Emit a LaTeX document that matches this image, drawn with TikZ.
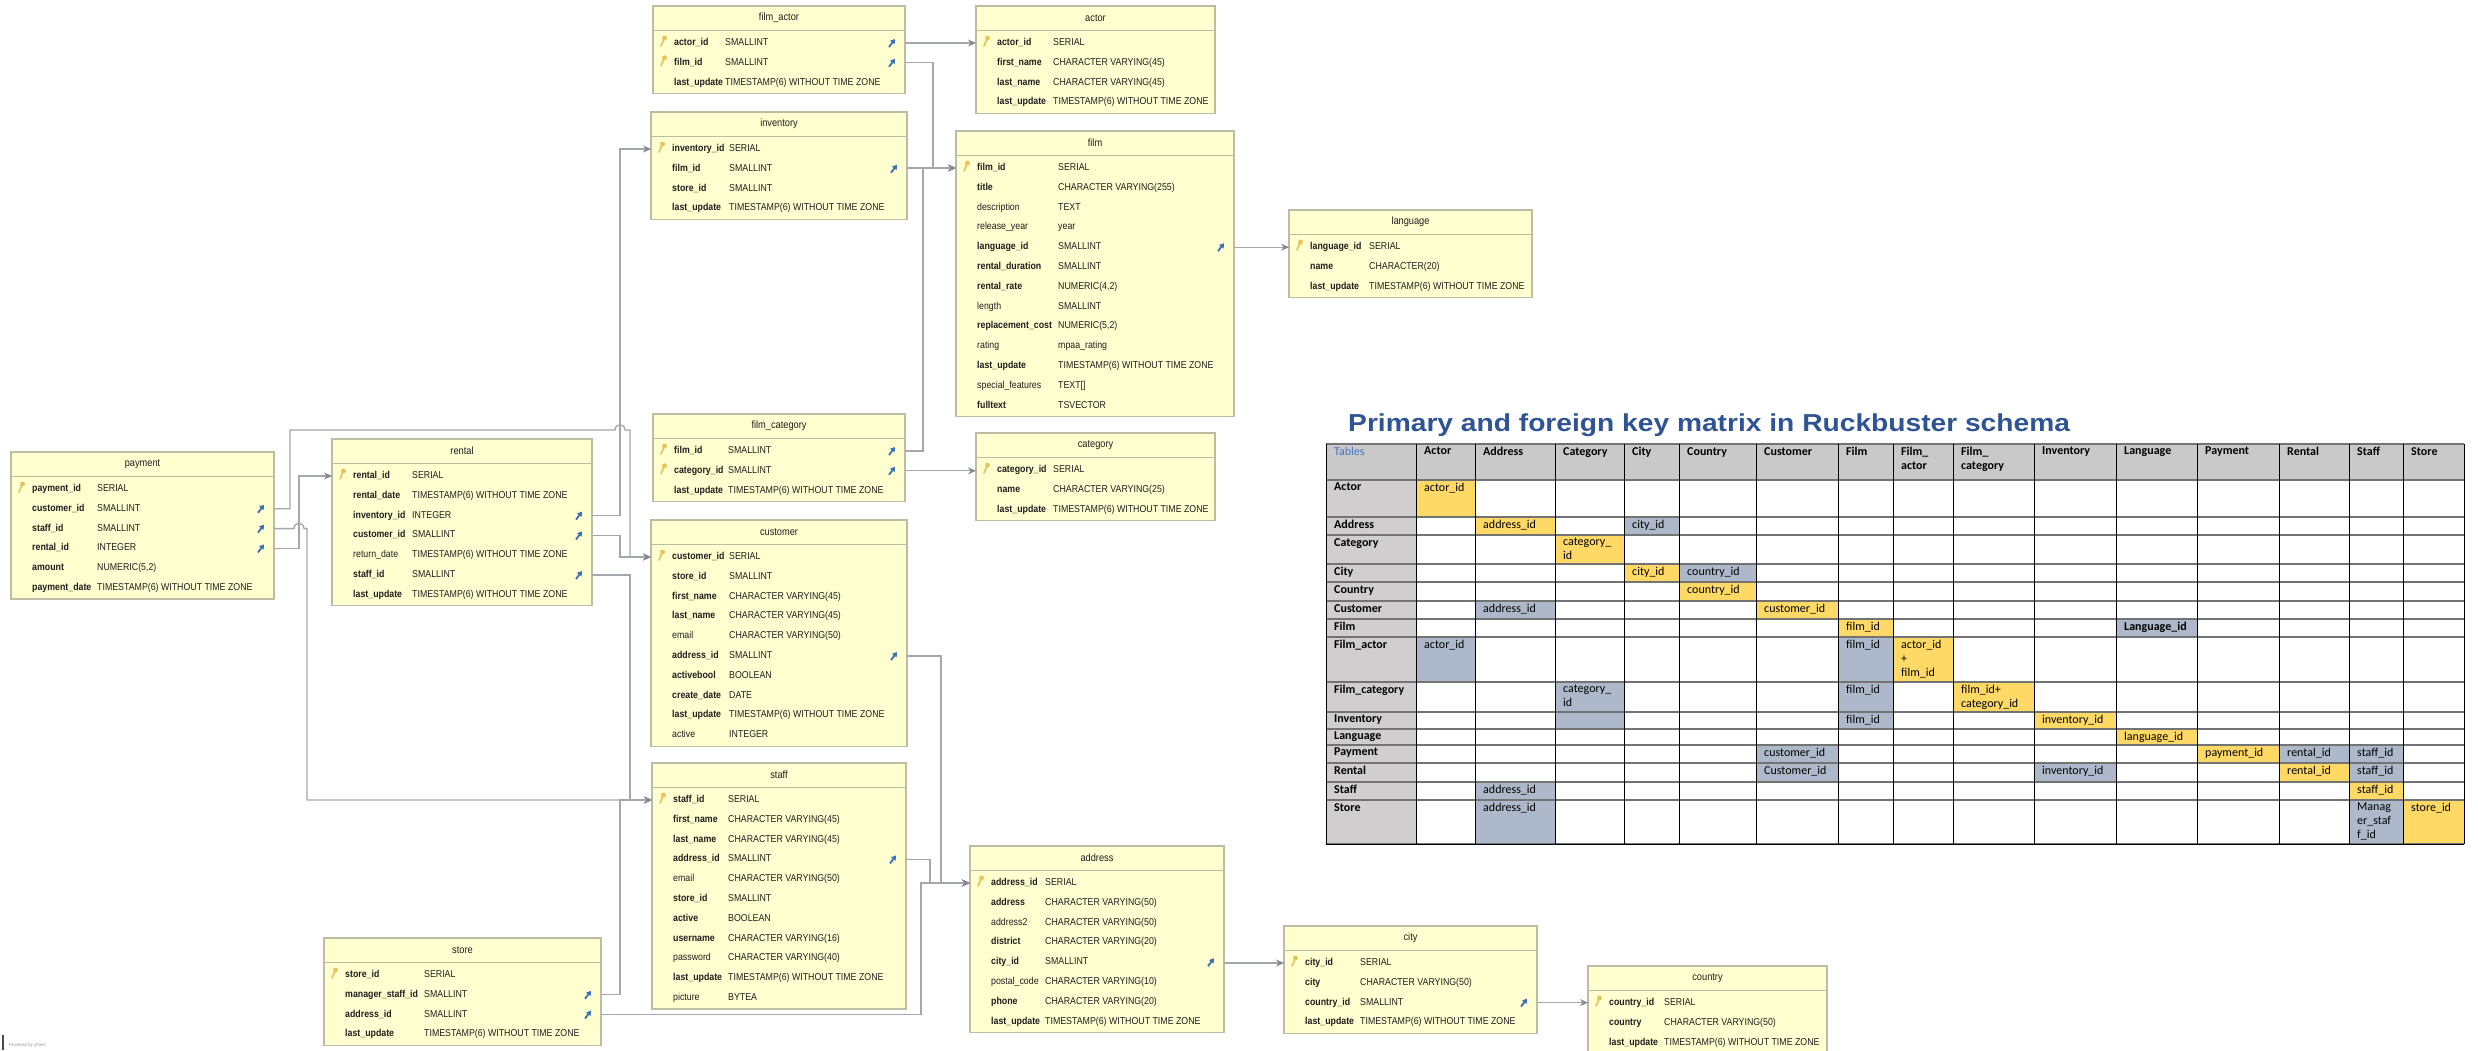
\documentclass[tikz,border=0pt]{standalone}
\usepackage{fontspec}
\setmainfont{Liberation Sans}
\newfontfamily\erfont{Liberation Sans}[FakeStretch=0.88]
\newfontfamily\mxfont{Carlito}
\newfontfamily\ttlfont{Liberation Sans}[FakeStretch=1.15]
\usetikzlibrary{arrows.meta,calc}
\definecolor{tabfill}{HTML}{FFFFD0}
\definecolor{tabline}{HTML}{BDBDA4}
\definecolor{ertext}{HTML}{1E1E1E}
\definecolor{keycol}{HTML}{E8C55C}
\definecolor{fkcol}{HTML}{3B70B5}
\definecolor{conncol}{HTML}{A4A7AF}
\definecolor{arrowcol}{HTML}{858993}
\definecolor{mxyel}{HTML}{FFD966}
\definecolor{mxblu}{HTML}{ADB9CA}
\definecolor{mxhead}{HTML}{C9C9C9}
\definecolor{mxlab}{HTML}{D0CECE}
\definecolor{ttlblue}{HTML}{2F5496}
\definecolor{tblblue}{HTML}{4472C4}
\tikzset{
 tabbox/.style={draw=tabline, fill=tabfill, line width=1.2pt, inner sep=0pt, outer sep=0pt},
 sepline/.style={draw=tabline, line width=1pt},
 ertitle/.style={font={\erfont\fontsize{10.5}{12}\selectfont}, text=ertext, inner sep=0pt},
 rowtxt/.style={inner sep=0pt, text height=7.5pt, text depth=2.5pt, text=ertext},
 nm-b/.style={font={\erfont\fontsize{10}{12}\selectfont\bfseries}},
 nm-n/.style={font={\erfont\fontsize{10}{12}\selectfont}},
 conn/.style={draw=conncol, line width=1.3pt, -{Stealth[length=8pt,width=7pt,color=arrowcol]}},
 mxtxt/.style={inner sep=0pt, align=left, font={\mxfont\fontsize{12}{14}\selectfont}, anchor=north west},
 mxh/.style={draw=black!55, line width=1.6pt},
 mxv/.style={draw=black, line width=0.9pt},
}
\def\tsz{TIMESTAMP(6) WITHOUT TIME ZONE}
\newcommand\erkey[2]{%
 \draw[keycol, line width=1.7pt, line cap=round] ({#1},{#2+3}) -- ({#1+3},{#2-4});
 \fill[keycol] ({#1+3.5},{#2-5}) circle[radius=2.5pt];}
\newcommand\erfk[2]{%
 \draw[fkcol, line width=1.8pt, -{Triangle[length=4.5pt,width=5.5pt]}] ({#1-3},{#2+4}) -- ({#1+3},{#2-4});}
\newcommand\ericok[3]{\erkey{#1+8}{#3}}
\newcommand\ericof[3]{\erfk{#2-13}{#3}}
\newcommand\ericokf[3]{\erkey{#1+8}{#3}\erfk{#2-13}{#3}}
\newcommand\ericox[3]{}
% id, left, top, right, typeoffset, title, nrows, rows
\newcommand\ertab[8]{%
 \pgfmathsetmacro\erh{37+(#7-1)*19.8+11}%
 \node[tabbox, minimum width={(#4-#2)*1pt}, minimum height={\erh*1pt}, anchor=north west] (#1) at (#2,#3) {};
 \draw[sepline] (#2,#3+24) -- (#4,#3+24);
 \node[ertitle] (#1-title) at ({(#2+#4)/2},#3+12) {#6};
 \foreach \rk/\rn/\rt/\rw/\ri [count=\i from 0] in {#8} {
   \pgfmathsetmacro\yy{#3+37+\i*19.8}
   \node[rowtxt, nm-\rw, anchor=west] (#1-\rk) at (#2+21,\yy) {\rn};
   \node[rowtxt, nm-n, anchor=west] (#1-\rk-type) at (#2+#5,\yy) {\rt};
   \csname erico\ri\endcsname{#2}{#4}{\yy}
 }}
\def\mxX{{1326,1416,1475,1555,1624,1679,1756,1838,1893,1953,2034,2116,2197,2279,2349,2403,2464}}
\def\mxY{{444,480,517,535,564,582,601,619,637,682,712,729,745,763,782,800,844}}
\newcommand\mxcell[4]{%
 \pgfmathsetmacro\mxa{\mxX[#2]}\pgfmathsetmacro\mxb{\mxX[#2+1]}%
 \pgfmathsetmacro\mya{\mxY[#1]}\pgfmathsetmacro\myb{\mxY[#1+1]}%
 \fill[#3] (\mxa,\mya) rectangle (\mxb,\myb);
 \node[mxtxt] (mx-#1-#2) at (\mxa+8,\mya+3) {#4};}
\begin{document}
\begin{tikzpicture}[x=1pt,y=-1pt]
\useasboundingbox (0,0) rectangle (2478,1050);
\fill[white] (0,0) rectangle (2478,1050);

% ---------- ER tables ----------
\ertab{filmactor}{653}{6}{905}{72}{film\_actor}{3}{
 actorid/actor\_id/SMALLINT/b/kf, filmid/film\_id/SMALLINT/b/kf, lastupdate/last\_update/\tsz/b/x}
\ertab{actor}{976}{6}{1215}{77}{actor}{4}{
 actorid/actor\_id/SERIAL/b/k, firstname/first\_name/CHARACTER VARYING(45)/b/x,
 lastname/last\_name/CHARACTER VARYING(45)/b/x, lastupdate/last\_update/\tsz/b/x}
\ertab{inventory}{651}{112}{907}{78}{inventory}{4}{
 inventoryid/inventory\_id/SERIAL/b/k, filmid/film\_id/SMALLINT/b/f,
 storeid/store\_id/SMALLINT/b/x, lastupdate/last\_update/\tsz/b/x}
\ertab{film}{956}{131}{1234}{102}{film}{13}{
 filmid/film\_id/SERIAL/b/k, title/title/CHARACTER VARYING(255)/b/x,
 description/description/TEXT/n/x, releaseyear/release\_year/year/n/x,
 languageid/language\_id/SMALLINT/b/f, rentalduration/rental\_duration/SMALLINT/b/x,
 rentalrate/rental\_rate/{NUMERIC(4,2)}/b/x, length/length/SMALLINT/n/x,
 replacementcost/replacement\_cost/{NUMERIC(5,2)}/b/x, rating/rating/mpaa\_rating/n/x,
 lastupdate/last\_update/\tsz/b/x, specialfeatures/special\_features/{TEXT[]}/n/x,
 fulltext/fulltext/TSVECTOR/b/x}
\ertab{language}{1289}{210}{1532}{80}{language}{3}{
 languageid/language\_id/SERIAL/b/k, name/name/CHARACTER(20)/b/x, lastupdate/last\_update/\tsz/b/x}
\ertab{filmcat}{653}{414}{905}{75}{film\_category}{3}{
 filmid/film\_id/SMALLINT/b/kf, categoryid/category\_id/SMALLINT/b/kf, lastupdate/last\_update/\tsz/b/x}
\ertab{category}{976}{433}{1215}{77}{category}{3}{
 categoryid/category\_id/SERIAL/b/k, name/name/CHARACTER VARYING(25)/b/x, lastupdate/last\_update/\tsz/b/x}
\ertab{customer}{651}{520}{907}{78}{customer}{10}{
 customerid/customer\_id/SERIAL/b/k, storeid/store\_id/SMALLINT/b/x,
 firstname/first\_name/CHARACTER VARYING(45)/b/x, lastname/last\_name/CHARACTER VARYING(45)/b/x,
 email/email/CHARACTER VARYING(50)/n/x, addressid/address\_id/SMALLINT/b/f,
 activebool/activebool/BOOLEAN/b/x, createdate/create\_date/DATE/b/x,
 lastupdate/last\_update/\tsz/b/x, active/active/INTEGER/n/x}
\ertab{payment}{11}{452}{274}{86}{payment}{6}{
 paymentid/payment\_id/SERIAL/b/k, customerid/customer\_id/SMALLINT/b/f,
 staffid/staff\_id/SMALLINT/b/f, rentalid/rental\_id/INTEGER/b/f,
 amount/amount/{NUMERIC(5,2)}/b/x, paymentdate/payment\_date/\tsz/b/x}
\ertab{rental}{332}{439}{592}{80}{rental}{7}{
 rentalid/rental\_id/SERIAL/b/k, rentaldate/rental\_date/\tsz/b/x,
 inventoryid/inventory\_id/INTEGER/b/f, customerid/customer\_id/SMALLINT/b/f,
 returndate/return\_date/\tsz/n/x, staffid/staff\_id/SMALLINT/b/f, lastupdate/last\_update/\tsz/b/x}
\ertab{staff}{652}{763}{906}{76}{staff}{11}{
 staffid/staff\_id/SERIAL/b/k, firstname/first\_name/CHARACTER VARYING(45)/b/x,
 lastname/last\_name/CHARACTER VARYING(45)/b/x, addressid/address\_id/SMALLINT/b/f,
 email/email/CHARACTER VARYING(50)/n/x, storeid/store\_id/SMALLINT/b/x,
 active/active/BOOLEAN/b/x, username/username/CHARACTER VARYING(16)/b/x,
 password/password/CHARACTER VARYING(40)/n/x, lastupdate/last\_update/\tsz/b/x,
 picture/picture/BYTEA/n/x}
\ertab{store}{324}{938}{601}{100}{store}{4}{
 storeid/store\_id/SERIAL/b/k, managerid/manager\_staff\_id/SMALLINT/b/f,
 addressid/address\_id/SMALLINT/b/f, lastupdate/last\_update/\tsz/b/x}
\ertab{address}{970}{846}{1224}{75}{address}{8}{
 addressid/address\_id/SERIAL/b/k, address/address/CHARACTER VARYING(50)/b/x,
 address2/address2/CHARACTER VARYING(50)/n/x, district/district/CHARACTER VARYING(20)/b/x,
 cityid/city\_id/SMALLINT/b/f, postalcode/postal\_code/CHARACTER VARYING(10)/n/x,
 phone/phone/CHARACTER VARYING(20)/b/x, lastupdate/last\_update/\tsz/b/x}
\ertab{city}{1284}{926}{1537}{76}{city}{4}{
 cityid/city\_id/SERIAL/b/k, city/city/CHARACTER VARYING(50)/b/x,
 countryid/country\_id/SMALLINT/b/f, lastupdate/last\_update/\tsz/b/x}
\ertab{country}{1588}{966}{1827}{76}{country}{3}{
 countryid/country\_id/SERIAL/b/k, country/country/CHARACTER VARYING(50)/b/x,
 lastupdate/last\_update/\tsz/b/x}

% ---------- connector lanes ----------
\coordinate (laneP1) at (290,0);
\coordinate (laneP3) at (299,0);
\coordinate (laneP2) at (307,0);
\coordinate (laneInv) at (620,0);
\coordinate (laneCust) at (630,0);
\coordinate (laneS) at (921,0);
\coordinate (laneT) at (930,0);
\coordinate (laneC) at (941,0);
\coordinate (laneFC) at (923,0);
\coordinate (laneFA) at (933,0);
\coordinate (topY) at (0,430);

% ---------- connectors ----------
\draw[conn] (filmactor-actorid -| filmactor.east) -- (filmactor-actorid -| actor.west);
\draw[conn] (filmactor-filmid -| filmactor.east) -- (filmactor-filmid -| laneFA) |- (film-filmid -| film.west);
\draw[conn] (film-filmid -| inventory.east) -- (film-filmid -| film.west);
\draw[conn] (filmcat-filmid -| filmcat.east) -- (filmcat-filmid -| laneFC) |- (film-filmid -| film.west);
\draw[conn] (film-languageid -| film.east) -- (film-languageid -| language.west);
\draw[conn] (filmcat-categoryid -| filmcat.east) -- (filmcat-categoryid -| category.west);
\draw[conn] (payment-customerid -| payment.east) -- (payment-customerid -| laneP1) -- (laneP1 |- topY)
  -- ($(laneInv |- topY)+(-5,0)$) .. controls +(0,-7) and +(0,-7) .. ($(laneInv |- topY)+(5,0)$)
  -- (laneCust |- topY) |- (customer-customerid -| customer.west);
\draw[conn] (payment-staffid -| payment.east) -- ($(payment-staffid -| laneP3)+(-5,0)$)
  .. controls +(0,-7) and +(0,-7) .. ($(payment-staffid -| laneP3)+(5,0)$)
  -- (payment-staffid -| laneP2) |- (staff-staffid -| staff.west);
\draw[conn] (payment-rentalid -| payment.east) -- (payment-rentalid -| laneP3) |- (rental-rentalid -| rental.west);
\draw[conn] (rental-inventoryid -| rental.east) -- (rental-inventoryid -| laneInv) |- (inventory-inventoryid -| inventory.west);
\draw[conn] (rental-customerid -| rental.east) -- (rental-customerid -| laneInv) |- (customer-customerid -| customer.west);
\draw[conn] (rental-staffid -| rental.east) -- (rental-staffid -| laneCust) |- (staff-staffid -| staff.west);
\draw[conn] (store-managerid -| store.east) -- (store-managerid -| laneInv) |- (staff-staffid -| staff.west);
\draw[conn] (store-addressid -| store.east) -- (store-addressid -| laneS) |- (address-addressid -| address.west);
\draw[conn] (staff-addressid -| staff.east) -- (staff-addressid -| laneT) |- (address-addressid -| address.west);
\draw[conn] (customer-addressid -| customer.east) -- (customer-addressid -| laneC) |- (address-addressid -| address.west);
\draw[conn] (city-cityid -| address.east) -- (city-cityid -| city.west);
\draw[conn] (city-countryid -| city.east) -- (city-countryid -| country.west);

% ---------- matrix ----------
\node[anchor=west, inner sep=0pt, text=ttlblue, font={\ttlfont\bfseries\fontsize{24.5}{28}\selectfont}] (mxtitle) at (1348,425) {Primary and foreign key matrix in Ruckbuster schema};
\fill[mxhead] (1326,444) rectangle (2464,480);
\fill[mxlab] (1326,480) rectangle (1416,844);
\mxcell{0}{0}{mxhead}{\textcolor{tblblue}{Tables}}
\mxcell{0}{1}{mxhead}{\textbf{Actor}}
\mxcell{0}{2}{mxhead}{\textbf{Address}}
\mxcell{0}{3}{mxhead}{\textbf{Category}}
\mxcell{0}{4}{mxhead}{\textbf{City}}
\mxcell{0}{5}{mxhead}{\textbf{Country}}
\mxcell{0}{6}{mxhead}{\textbf{Customer}}
\mxcell{0}{7}{mxhead}{\textbf{Film}}
\mxcell{0}{8}{mxhead}{\textbf{Film\_}\\\textbf{actor}}
\mxcell{0}{9}{mxhead}{\textbf{Film\_}\\\textbf{category}}
\mxcell{0}{10}{mxhead}{\textbf{Inventory}}
\mxcell{0}{11}{mxhead}{\textbf{Language}}
\mxcell{0}{12}{mxhead}{\textbf{Payment}}
\mxcell{0}{13}{mxhead}{\textbf{Rental}}
\mxcell{0}{14}{mxhead}{\textbf{Staff}}
\mxcell{0}{15}{mxhead}{\textbf{Store}}
\mxcell{1}{0}{mxlab}{\textbf{Actor}}
\mxcell{2}{0}{mxlab}{\textbf{Address}}
\mxcell{3}{0}{mxlab}{\textbf{Category}}
\mxcell{4}{0}{mxlab}{\textbf{City}}
\mxcell{5}{0}{mxlab}{\textbf{Country}}
\mxcell{6}{0}{mxlab}{\textbf{Customer}}
\mxcell{7}{0}{mxlab}{\textbf{Film}}
\mxcell{8}{0}{mxlab}{\textbf{Film\_actor}}
\mxcell{9}{0}{mxlab}{\textbf{Film\_category}}
\mxcell{10}{0}{mxlab}{\textbf{Inventory}}
\mxcell{11}{0}{mxlab}{\textbf{Language}}
\mxcell{12}{0}{mxlab}{\textbf{Payment}}
\mxcell{13}{0}{mxlab}{\textbf{Rental}}
\mxcell{14}{0}{mxlab}{\textbf{Staff}}
\mxcell{15}{0}{mxlab}{\textbf{Store}}
\mxcell{1}{1}{mxyel}{actor\_id}
\mxcell{2}{2}{mxyel}{address\_id}
\mxcell{2}{4}{mxblu}{city\_id}
\mxcell{3}{3}{mxyel}{category\_\\id}
\mxcell{4}{4}{mxyel}{city\_id}
\mxcell{4}{5}{mxblu}{country\_id}
\mxcell{5}{5}{mxyel}{country\_id}
\mxcell{6}{2}{mxblu}{address\_id}
\mxcell{6}{6}{mxyel}{customer\_id}
\mxcell{7}{7}{mxyel}{film\_id}
\mxcell{7}{11}{mxblu}{\textbf{Language\_id}}
\mxcell{8}{1}{mxblu}{actor\_id}
\mxcell{8}{7}{mxblu}{film\_id}
\mxcell{8}{8}{mxyel}{actor\_id\\+\\film\_id}
\mxcell{9}{3}{mxblu}{category\_\\id}
\mxcell{9}{7}{mxblu}{film\_id}
\mxcell{9}{9}{mxyel}{film\_id+\\category\_id}
\mxcell{10}{3}{mxblu}{}
\mxcell{10}{7}{mxblu}{film\_id}
\mxcell{10}{10}{mxyel}{inventory\_id}
\mxcell{11}{11}{mxyel}{language\_id}
\mxcell{12}{6}{mxblu}{customer\_id}
\mxcell{12}{12}{mxyel}{payment\_id}
\mxcell{12}{13}{mxblu}{rental\_id}
\mxcell{12}{14}{mxblu}{staff\_id}
\mxcell{13}{6}{mxblu}{Customer\_id}
\mxcell{13}{10}{mxblu}{inventory\_id}
\mxcell{13}{13}{mxyel}{rental\_id}
\mxcell{13}{14}{mxblu}{staff\_id}
\mxcell{14}{2}{mxblu}{address\_id}
\mxcell{14}{14}{mxyel}{staff\_id}
\mxcell{15}{2}{mxblu}{address\_id}
\mxcell{15}{14}{mxblu}{Manag\\er\_staf\\f\_id}
\mxcell{15}{15}{mxyel}{store\_id}
\foreach \i in {0,...,16} {\pgfmathsetmacro\yy{\mxY[\i]} \draw[mxh] (1326,\yy) -- (2464,\yy);}
\foreach \i in {0,...,16} {\pgfmathsetmacro\xx{\mxX[\i]} \draw[mxv] (\xx,444) -- (\xx,844);}
\draw[black, line width=1pt] (1326,844) -- (2464,844);

% ---------- footer ----------
\draw[black!70, line width=1.2pt] (3,1035) -- (3,1050);
\node[anchor=west, inner sep=0pt, text=black!40, font={\fontsize{4.5}{5}\selectfont}] (powered) at (9,1045) {Powered by yFiles};
\end{tikzpicture}
\end{document}
